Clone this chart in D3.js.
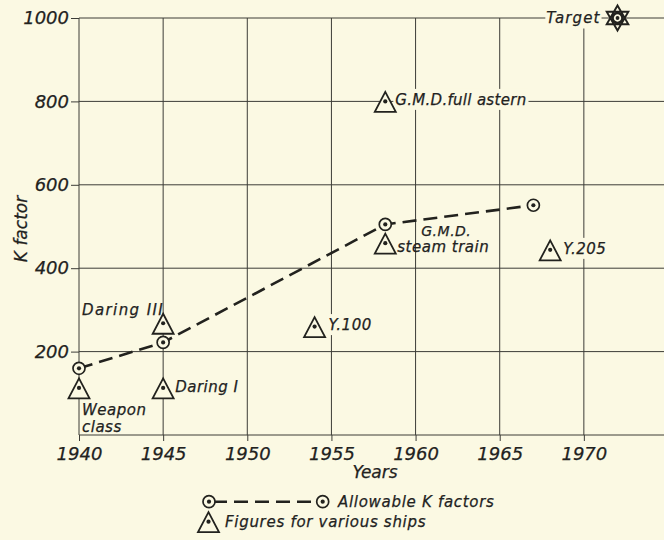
<!DOCTYPE html>
<html>
<head>
<meta charset="utf-8">
<script src="https://cdn.jsdelivr.net/npm/d3@7"></script>
<style>
  html, body { margin: 0; padding: 0; background: #fbf9e3; }
  svg { display: block; }
  text { font-family: "DejaVu Sans", sans-serif; font-style: italic; fill: #22221e; stroke: #22221e; stroke-width: 0.25px; }
</style>
</head>
<body>
<svg id="chart" width="664" height="540"></svg>
<script>
// ---- data ----
const yearTicks = [1940, 1945, 1950, 1955, 1960, 1965, 1970];
const kTicks = [200, 400, 600, 800, 1000];

// Allowable K factors (dashed curve)
const allowYears = [1940, 1945, 1958.2, 1967];
const allowK = [160, 222, 505, 551];

// Figures for various ships
const shipNames = ["Weapon class", "Daring I", "Daring III", "Y.100", "G.M.D. steam train", "Y.205", "G.M.D. full astern"];
const shipYears = [1940, 1945, 1945, 1954, 1958.2, 1968, 1958.2];
const shipK = [113, 113, 268, 260, 460, 444, 800];

// Target
const targetYear = 1972;
const targetK = 1000;

// ---- label placement (pixels, relative to each marker) ----
const shipLabelLayout = [
  { lines: ["Weapon", "class"], dx: [3, 3], dy: [27, 44], anchor: "start", mask: false, spacing: 0.5, size: [15, 15] },
  { lines: ["Daring I"], dx: [12], dy: [4.5], anchor: "start", mask: false, spacing: 0.5, size: [15] },
  { lines: ["Daring III"], dx: [1], dy: [-8], anchor: "end", mask: false, spacing: 1.4, size: [15] },
  { lines: ["Y.100"], dx: [14], dy: [3.5], anchor: "start", mask: true, spacing: 0.5, size: [15] },
  { lines: ["G.M.D.", "steam train"], dx: [36, 12], dy: [-7, 8.5], anchor: "start", mask: false, spacing: 0.5, size: [14, 15] },
  { lines: ["Y.205"], dx: [13], dy: [4], anchor: "start", mask: true, spacing: 0.5, size: [15] },
  { lines: ["G.M.D.full astern"], dx: [10], dy: [3.5], anchor: "start", mask: true, spacing: 0.3, size: [15] }
];

const BG = "#fbf9e3";
const INK = "#22221e";
const GRID = "#3c3c37";

const svg = d3.select("#chart");
svg.append("rect").attr("width", 664).attr("height", 540).attr("fill", BG);

const x = d3.scaleLinear().domain([1940, 1975]).range([79, 668]);
const y = d3.scaleLinear().domain([0, 1000]).range([435, 18]);

// ---- grid ----
const grid = svg.append("g").attr("stroke", GRID).attr("stroke-width", 1).attr("fill", "none");
grid.selectAll("line.h").data([0].concat(kTicks)).join("line")
  .attr("class", "h")
  .attr("x1", x(1940)).attr("x2", x(1975))
  .attr("y1", d => y(d)).attr("y2", d => y(d));
grid.selectAll("line.v").data(yearTicks).join("line")
  .attr("class", "v")
  .attr("x1", d => x(d)).attr("x2", d => x(d))
  .attr("y1", y(1000)).attr("y2", y(0));

// ---- axes ----
const yAxis = svg.append("g")
  .attr("transform", `translate(${x(1940)},0)`)
  .call(d3.axisLeft(y).tickValues(kTicks).tickSize(8).tickPadding(2).tickFormat(d3.format("d")));
yAxis.select(".domain").remove();
yAxis.selectAll(".tick line").attr("stroke", GRID);
yAxis.selectAll(".tick text")
  .attr("fill", INK).style("font-family", "'DejaVu Sans', sans-serif")
  .style("font-style", "italic").style("font-size", "18px");

const xAxis = svg.append("g")
  .attr("transform", `translate(0,${y(0)})`)
  .call(d3.axisBottom(x).tickValues(yearTicks).tickSize(6).tickPadding(6).tickFormat(d3.format("d")));
xAxis.select(".domain").remove();
xAxis.selectAll(".tick line").attr("stroke", GRID);
xAxis.selectAll(".tick text")
  .attr("fill", INK).style("font-family", "'DejaVu Sans', sans-serif")
  .style("font-style", "italic").style("font-size", "18px");

// axis titles
svg.append("text")
  .attr("x", 375).attr("y", 478)
  .attr("text-anchor", "middle")
  .style("font-size", "17px")
  .text("Years");
svg.append("text")
  .attr("transform", "translate(27,229) rotate(-90)")
  .attr("text-anchor", "middle")
  .style("font-size", "17px")
  .text("K factor");

// ---- allowable K curve ----
const allowPts = allowYears.map((yr, i) => [yr, allowK[i]]);
svg.append("path")
  .datum(allowPts)
  .attr("fill", "none")
  .attr("stroke", INK)
  .attr("stroke-width", 2.6)
  .attr("stroke-dasharray", "14,7")
  .attr("d", d3.line().x(d => x(d[0])).y(d => y(d[1])));

function circleMarker(g) {
  g.append("circle").attr("r", 6).attr("fill", BG).attr("stroke", INK).attr("stroke-width", 1.7);
  g.append("circle").attr("r", 2.1).attr("fill", INK);
}
function triangleMarker(g) {
  g.append("path")
    .attr("d", "M0,-9.5L10.5,10.5L-10.5,10.5Z")
    .attr("fill", BG).attr("stroke", INK).attr("stroke-width", 1.8).attr("stroke-linejoin", "miter");
  g.append("circle").attr("r", 2.1).attr("fill", INK);
}

svg.selectAll("g.allow").data(allowPts).join("g")
  .attr("class", "allow")
  .attr("transform", d => `translate(${x(d[0])},${y(d[1])})`)
  .each(function () { circleMarker(d3.select(this)); });

// ---- ships ----
const ships = shipNames.map((n, i) => ({ name: n, year: shipYears[i], k: shipK[i], lay: shipLabelLayout[i] }));

const labelLayer = svg.append("g");
ships.forEach(s => {
  const px = x(s.year), py = y(s.k);
  const g = labelLayer.append("g");
  s.lay.lines.forEach((ln, j) =>
    g.append("text")
      .attr("x", px + s.lay.dx[j]).attr("y", py + s.lay.dy[j])
      .attr("text-anchor", s.lay.anchor)
      .style("font-size", s.lay.size[j] + "px")
      .style("letter-spacing", s.lay.spacing + "px")
      .text(ln));
  if (s.lay.mask) {
    const b = g.node().getBBox();
    g.insert("rect", "text")
      .attr("x", b.x - 2).attr("y", b.y - 2)
      .attr("width", b.width + 4).attr("height", b.height + 3)
      .attr("fill", BG).attr("stroke", "none");
  }
});

svg.selectAll("g.ship").data(ships).join("g")
  .attr("class", "ship")
  .attr("transform", d => `translate(${x(d.year)},${y(d.k)})`)
  .each(function () { triangleMarker(d3.select(this)); });

// ---- target ----
const tx = x(targetYear), ty = y(targetK);
const tLabel = svg.append("g");
tLabel.append("text")
  .attr("x", tx - 17).attr("y", ty + 4.5)
  .attr("text-anchor", "end")
  .style("font-size", "15px")
  .style("letter-spacing", "1.1px")
  .text("Target");
const tb = tLabel.node().getBBox();
tLabel.insert("rect", "text")
  .attr("x", tb.x - 1).attr("y", tb.y - 2)
  .attr("width", tb.width + 2).attr("height", tb.height + 4)
  .attr("fill", BG);

const star = svg.append("g").attr("transform", `translate(${tx},${ty})`);
const R = 12.5, c30 = Math.cos(Math.PI / 6);
const up = [[0, -R], [R * c30, R / 2], [-R * c30, R / 2]];
const down = [[0, R], [R * c30, -R / 2], [-R * c30, -R / 2]];
star.append("path")
  .attr("d", "M" + up.join("L") + "Z" + "M" + down.join("L") + "Z")
  .attr("fill", BG).attr("stroke", INK).attr("stroke-width", 1.9).attr("stroke-linejoin", "miter");
star.append("circle").attr("r", 5).attr("fill", BG).attr("stroke", INK).attr("stroke-width", 2.6);
star.append("circle").attr("r", 1.9).attr("fill", INK);

// ---- legend ----
const leg = svg.append("g");
const l1y = 501.7;
leg.append("line")
  .attr("x1", 209).attr("x2", 322.7).attr("y1", l1y).attr("y2", l1y)
  .attr("stroke", INK).attr("stroke-width", 2.6).attr("stroke-dasharray", "14,7").attr("stroke-dashoffset", -4);
[209, 322.7].forEach(cx => circleMarker(leg.append("g").attr("transform", `translate(${cx},${l1y})`)));
leg.append("text").attr("x", 338).attr("y", l1y + 5.3)
  .style("font-size", "15px").style("letter-spacing", "0.7px")
  .text("Allowable K factors");

const l2y = 521.7;
triangleMarker(leg.append("g").attr("transform", `translate(208.5,${l2y})`));
leg.append("text").attr("x", 225).attr("y", l2y + 5.3)
  .style("font-size", "15px").style("letter-spacing", "0.7px")
  .text("Figures for various ships");
</script>
</body>
</html>
